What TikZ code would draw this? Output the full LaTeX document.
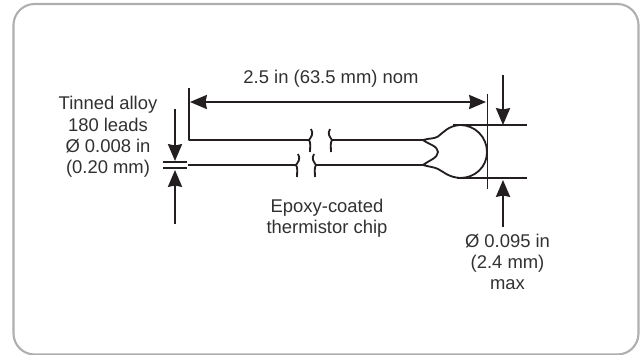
\documentclass[tikz,border=0pt]{standalone}
\usepackage{fontspec}
\setmainfont{Liberation Sans}
\usetikzlibrary{arrows.meta}
\definecolor{inkcolor}{RGB}{35,31,32}
\definecolor{textcolor}{RGB}{50,48,49}
\definecolor{framecolor}{RGB}{175,175,178}
\tikzset{
  lbl/.style={inner sep=0pt, align=center, text=textcolor, font=\fontsize{13.1}{15.1}\selectfont},
  wire/.style={inkcolor, line width=1.3pt, line join=round},
  dimtip/.tip={Stealth[length=12pt,width=10pt,inset=1pt]},
  dimarrow/.style={inkcolor, line width=1.6pt, -dimtip}
}
\begin{document}
\begin{tikzpicture}[x=0.025cm,y=-0.025cm]
\useasboundingbox (0,0) rectangle (640,355);
%% Frame
\draw[framecolor, line width=1.5pt, rounded corners=15pt] (13.5,4) rectangle (638.5,354.5);
%% Leads
\draw[wire] (189,88)--(189,140)--(309,140);
\draw[wire] (332,140)--(423,140);
\draw[wire] (188,165)--(296,165);
\draw[wire] (316,165)--(423,165);
%% Break marks
\foreach \x/\y/\s in {309/140/1, 332/140/-1, 296/165/1, 316/165/-1}
  \draw[wire] ({\x+2*\s},\y-11) .. controls ({\x+5*\s},\y-6) and ({\x+2*\s},\y-3) .. (\x,\y)
    .. controls ({\x+2*\s},\y+3) and ({\x+1*\s},\y+7) .. ({\x+1*\s},\y+12);
%% Bead
\draw[wire] (423,140) .. controls (430,138) and (434,139) .. (438,136.5)
  .. controls (444,132) and (448,126) .. (460,125)
  .. controls (475,125) and (487,137) .. (487,152)
  .. controls (487,167) and (475,178) .. (460,178)
  .. controls (448,177) and (444,172) .. (438,169)
  .. controls (434,167) and (430,167) .. (423,165)
  .. controls (428,161) and (438,158) .. (438,152)
  .. controls (438,146) and (428,144) .. (423,140);
%% Extension lines
\draw[wire] (487.5,94)--(487.5,189);
\draw[wire] (453,125)--(527,125);
\draw[wire] (457,178)--(527,178);
\draw[wire] (163,162)--(187,162);
\draw[wire] (163,168)--(187,168);
%% Dimension arrows
\draw[dimarrow, dimtip-dimtip] (190,102)--(486,102);
\draw[dimarrow] (503,75)--(503,125);
\draw[dimarrow] (503,227)--(503,180);
\draw[dimarrow] (175,109)--(175,161);
\draw[dimarrow] (175,224)--(175,170);
%% Labels
\node[lbl] (nomlabel) at (331,79) {2.5 in (63.5 mm) nom};
\node[lbl] (leadlabel) at (108,137) {Tinned alloy\\180 leads\\Ø 0.008 in\\(0.20 mm)};
\node[lbl] (chiplabel) at (327,218) {Epoxy-coated\\thermistor chip};
\node[lbl] (beadlabel) at (507.5,262) {Ø 0.095 in\\(2.4 mm)\\max};
\end{tikzpicture}
\end{document}
